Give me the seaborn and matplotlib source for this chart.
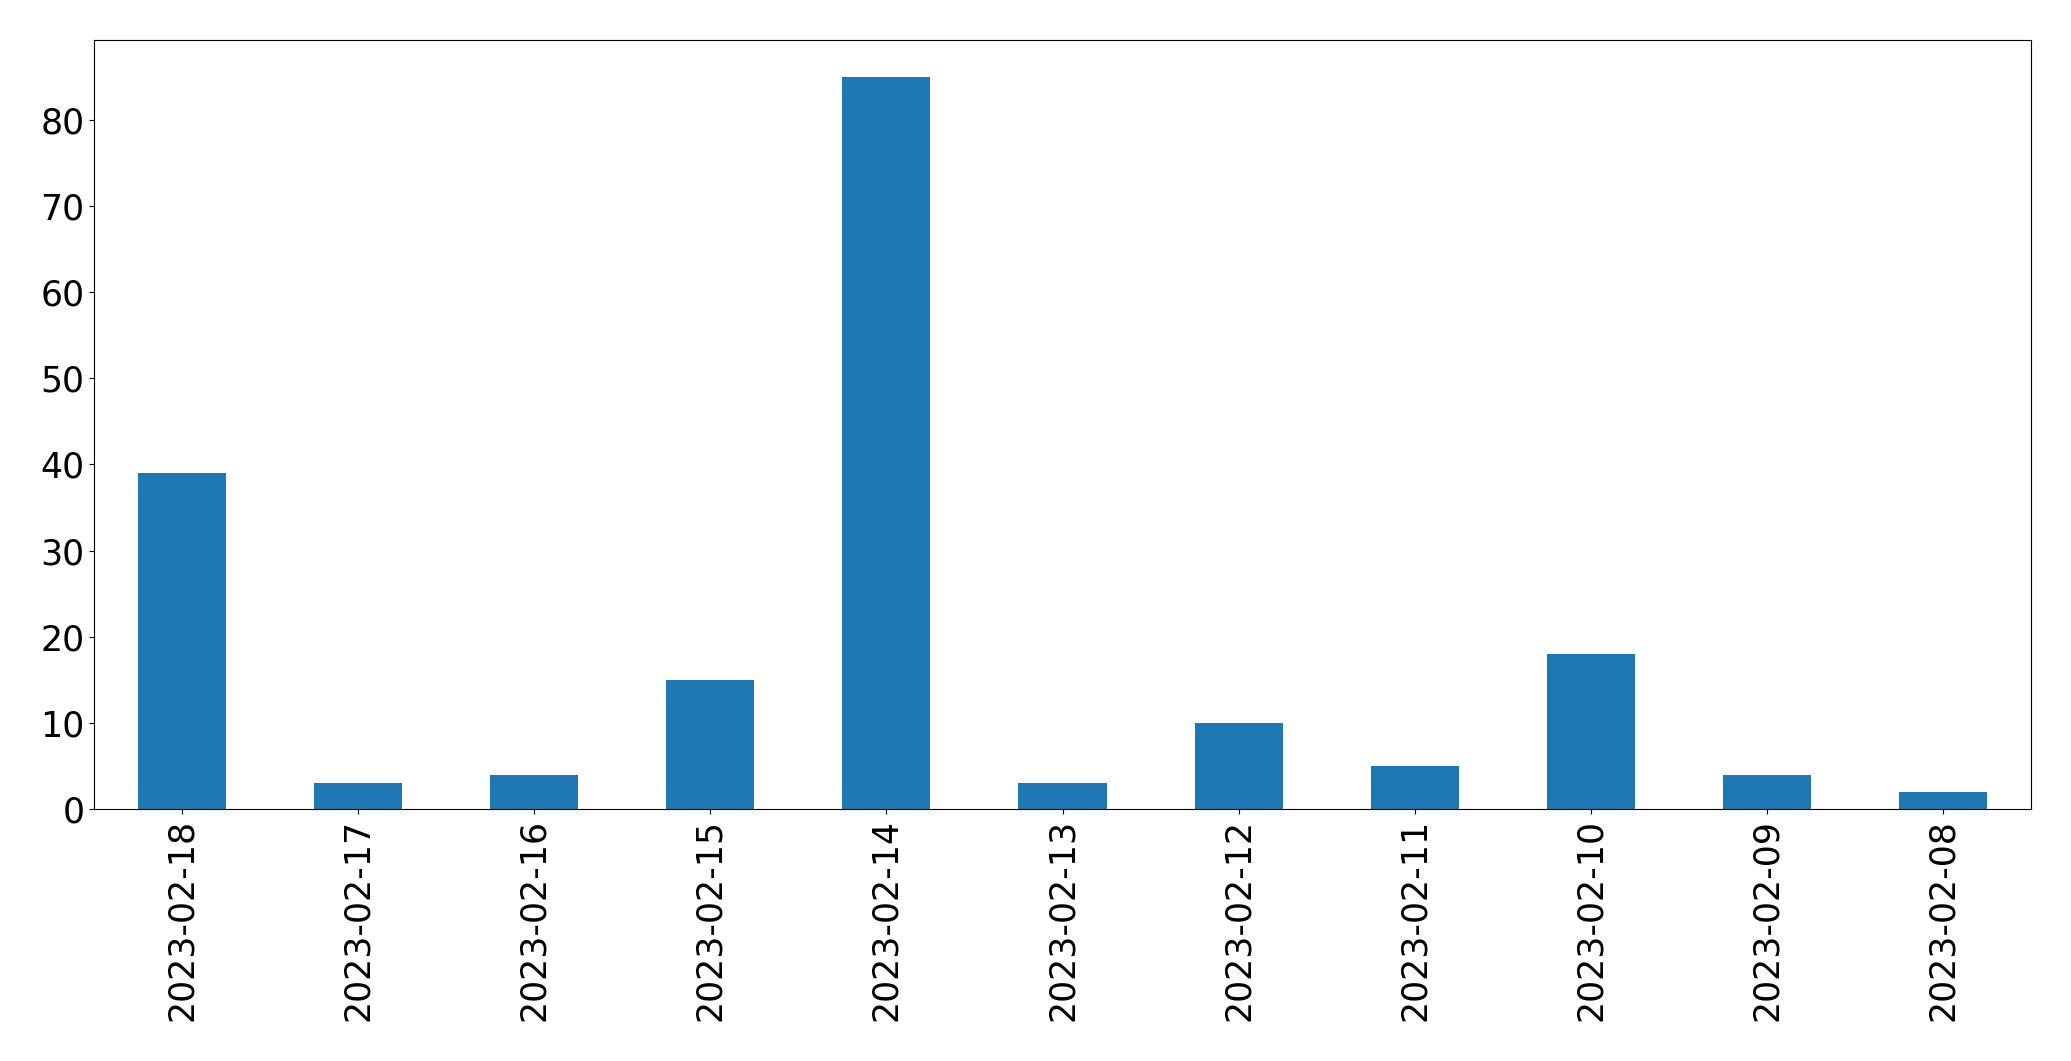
import matplotlib
matplotlib.use('Agg')
import matplotlib.pyplot as plt
import seaborn as sns
import pandas as pd

dates = ['2023-02-18', '2023-02-17', '2023-02-16', '2023-02-15', '2023-02-14', '2023-02-13',
         '2023-02-12', '2023-02-11', '2023-02-10', '2023-02-09', '2023-02-08']
counts = [39, 3, 4, 15, 85, 3, 10, 5, 18, 4, 2]

df = pd.DataFrame({'date': dates, 'count': counts})

fig, ax = plt.subplots(figsize=(20.71, 10.61), dpi=100)
fig.subplots_adjust(left=94 / 2071, right=2031 / 2071, top=1 - 40 / 1061, bottom=1 - 809 / 1061)

sns.barplot(data=df, x='date', y='count', color='#1f77b4', saturation=1, width=0.5,
            linewidth=0, ax=ax)
ax.set_xlim(-0.5, len(dates) - 0.5)
ax.set_ylim(0, max(counts) * 1.05)
ax.set_xlabel('')
ax.set_ylabel('')
ax.tick_params(axis='both', labelsize=25)
ax.tick_params(axis='x', labelrotation=90)

plt.savefig('out.png', dpi=100)
